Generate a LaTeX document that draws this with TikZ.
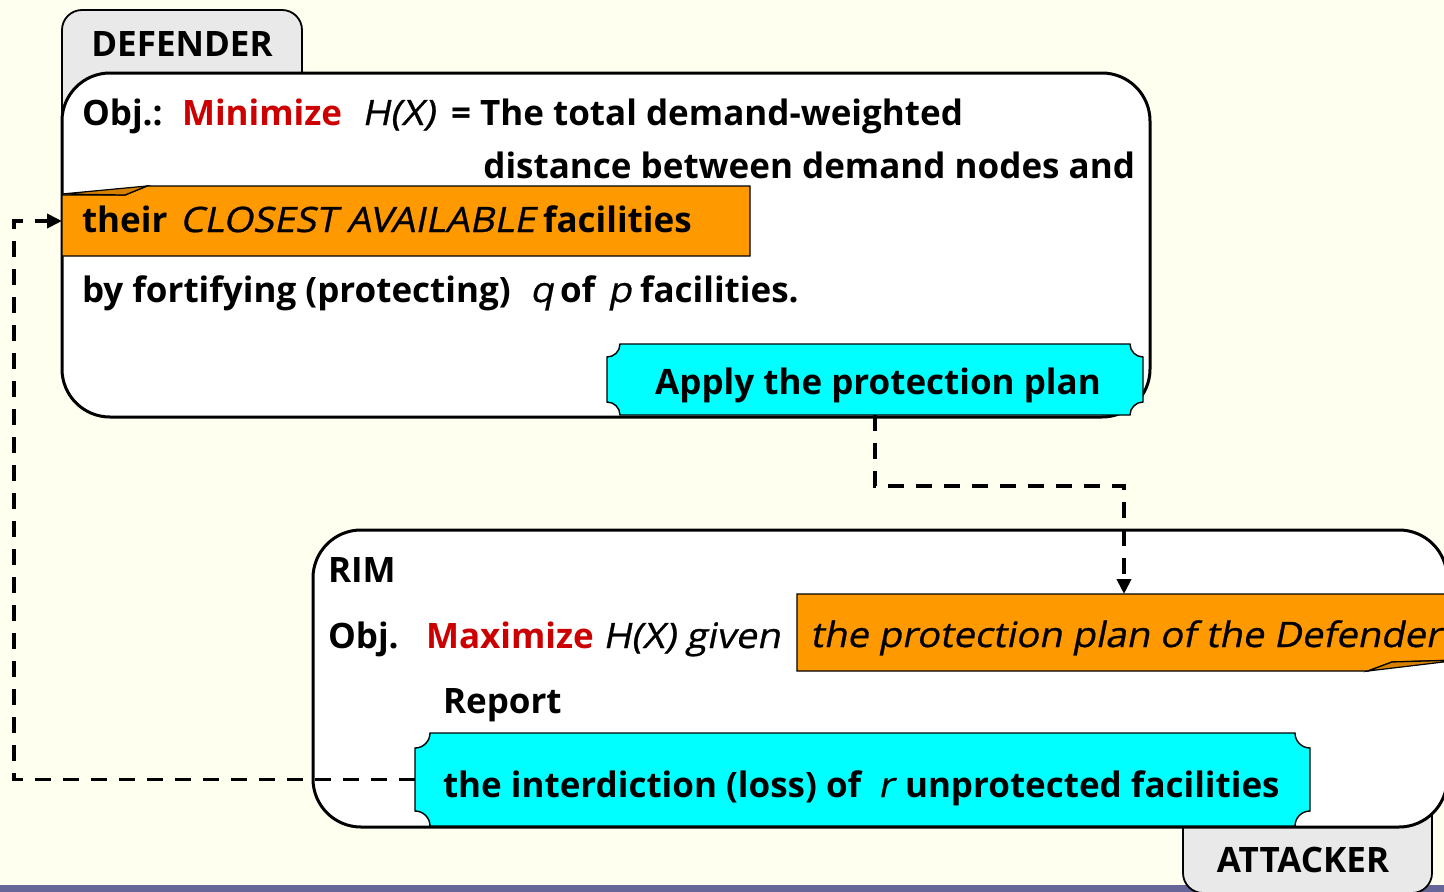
\documentclass[tikz,border=0pt]{standalone}
\usepackage{fontspec}
\setmainfont{Open Sans}
\newfontfamily\slantfont[FakeSlant=0.2, FakeStretch=1.09, FakeBold=0.8]{Open Sans}
\usetikzlibrary{arrows.meta,calc}

\definecolor{bgcol}{RGB}{255,255,240}
\definecolor{barcol}{RGB}{102,102,153}
\definecolor{tabgrey}{RGB}{233,233,233}
\definecolor{boxorange}{RGB}{255,153,0}
\definecolor{flaporange}{RGB}{214,128,0}
\definecolor{plaquecyan}{RGB}{0,255,255}
\definecolor{keyred}{RGB}{204,0,0}

\tikzset{
  txt/.style={anchor=base west, inner sep=0pt, outer sep=0pt,
    font=\bfseries\fontsize{35}{40}\selectfont},
  itxt/.style={txt, font=\slantfont\fontsize{35}{40}\selectfont},
  frame/.style={inner sep=0pt, outer sep=0pt},
  tabbox/.style={frame, draw=black, line width=1.8pt, fill=tabgrey, rounded corners=20pt},
  panel/.style={frame, draw=black, line width=3pt, fill=white, rounded corners=48pt},
  orangefill/.style={fill=boxorange, draw=black, line width=1.4pt, line join=miter},
  flap/.style={fill=flaporange, draw=black, line width=1.2pt},
  plaquefill/.style={fill=plaquecyan, draw=black, line width=1.4pt},
  flow/.style={draw=black, line width=3.8pt, dash pattern=on 16pt off 12pt,
    -{Triangle[length=15pt,width=14pt]}},
}

% concave-cornered plaque drawn round a named node
\newcommand\plaqueround[2]{%
  \path[plaquefill]
    ([xshift=#2]#1.north west) -- ([xshift=-#2]#1.north east)
    arc[start angle=180, end angle=270, radius=#2]
    -- ([yshift=#2]#1.south east)
    arc[start angle=90, end angle=180, radius=#2]
    -- ([xshift=#2]#1.south west)
    arc[start angle=0, end angle=90, radius=#2]
    -- ([yshift=-#2]#1.north west)
    arc[start angle=270, end angle=360, radius=#2]
    -- cycle;}

\begin{document}
\begin{tikzpicture}[x=1pt, y=1pt]
\useasboundingbox (0,0) rectangle (1444,-892);
\clip (0,0) rectangle (1444,-892);
\fill[bgcol] (0,0) rectangle (1444,-892);
\fill[barcol] (0,-885) rectangle (1444,-892);

% ---- Defender panel ----
\node[tabbox, minimum width=240pt, minimum height=120pt, anchor=north west] (deftab) at (62,-10) {};
\node[txt, anchor=base] (deflabel) at (182,-56) {DEFENDER};
\node[panel, minimum width=1088pt, minimum height=344pt, anchor=north west] (defbox) at (62,-73) {};

% highlighted band with a peeled top-left corner
\node[frame, minimum width=688pt, minimum height=70pt, anchor=north west] (closest) at (62,-186) {};
\path[orangefill] (62,-195) -- (125,-195) -- (147,-186) -- (750,-186) -- (750,-256) -- (62,-256) -- cycle;
\path[flap] (62,-194) -- (147,-186) -- (125,-195) -- cycle;

% protection plan plaque
\node[frame, minimum width=536pt, minimum height=71pt] (applybox) at (875,-379.5) {};
\plaqueround{applybox}{13pt}

\node[txt] (obj1) at (82,-125) {Obj.:};
\node[txt, text=keyred] (minword) at (182,-125) {Minimize};
\node[itxt] (hx1) at (362,-125) {H(X)};
\node[txt] (line1) at (451,-125) {= The total demand-weighted};
\node[txt, anchor=base east] (line2) at (1135,-178) {distance between demand nodes and};
\node[txt] (their) at (82,-232) {their};
\node[itxt] (closestword) at (180,-232) {CLOSEST AVAILABLE};
\node[txt] (fac1) at (543,-232) {facilities};
\node[txt] (line4a) at (82,-302) {by fortifying (protecting)};
\node[itxt] (qvar) at (530,-302) {q};
\node[txt] (ofword) at (560,-302) {of};
\node[itxt] (pvar) at (608,-302) {p};
\node[txt] (fac2) at (640,-302) {facilities.};
\node[txt, anchor=base] (applytext) at (878,-394) {Apply the protection plan};

% ---- Attacker panel ----
\node[tabbox, minimum width=249pt, minimum height=98pt, anchor=north west] (atttab) at (1183,-795) {};
\node[txt, anchor=base] (attlabel) at (1303,-872) {ATTACKER};
\node[panel, minimum width=1134pt, minimum height=297pt, anchor=north west] (rimbox) at (313,-530) {};

% highlighted band with a peeled bottom-right corner
\node[frame, minimum width=660pt, minimum height=77pt, anchor=north west] (protbox) at (797,-594) {};
\path[orangefill] (797,-594) -- (1460,-594) -- (1460,-660) -- (1392,-662) -- (1368,-671) -- (797,-671) -- cycle;
\path[flap] (1368,-671) -- (1392,-662) -- (1460,-660) -- cycle;

% interdiction plaque
\node[frame, minimum width=895pt, minimum height=93pt] (intbox) at (862.5,-779.5) {};
\plaqueround{intbox}{15pt}

\node[txt] (rimlabel) at (328,-582) {RIM};
\node[txt] (obj2) at (328,-648) {Obj.};
\node[txt, text=keyred] (maxword) at (426,-648) {Maximize};
\node[itxt] (hx2) at (603,-648) {H(X) given};
\node[itxt] (plantext) at (810,-647) {the protection plan of the Defender};
\node[txt] (report) at (443,-713) {Report};
\node[txt] (inttext1) at (443,-797) {the interdiction (loss) of};
\node[itxt] (rvar) at (878,-797) {r};
\node[txt] (inttext2) at (905,-797) {unprotected facilities};

% ---- connectors ----
\draw[flow] (applybox.south) |- ++(249,-71) -- ([xshift=327pt]protbox.north west);
\draw[flow] (intbox.west) -| ($(closest.west)+(-48,0)$) -- (closest.west);
\end{tikzpicture}
\end{document}
